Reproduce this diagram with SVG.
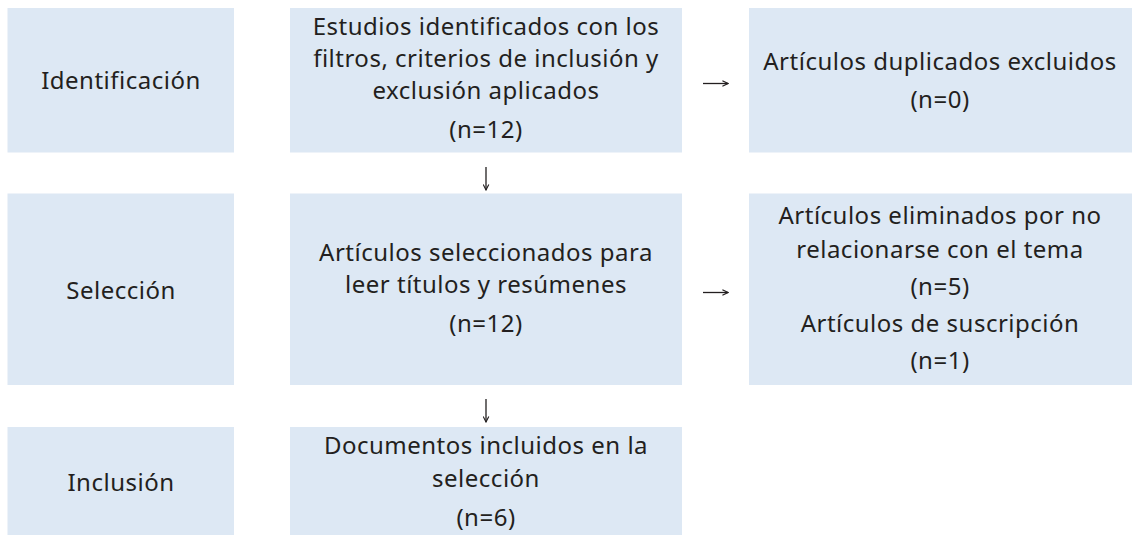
<svg xmlns="http://www.w3.org/2000/svg" width="1132" height="535" viewBox="0 0 1132 535">
  <defs>
    <style>
      .box { fill: #dde8f4; }
      .t { font-family: "Noto Sans", "Open Sans", "DejaVu Sans", sans-serif; font-size: 24px; letter-spacing: 0.5px; fill: #231f20; text-anchor: middle; }
      .conn { stroke: #231f20; stroke-width: 1.3; fill: none; }
    </style>
    <marker id="ah" viewBox="0 0 10 10" refX="9" refY="5" markerWidth="7" markerHeight="7" markerUnits="userSpaceOnUse" orient="auto">
      <path d="M1,1 L9,5 L1,9" fill="none" stroke="#231f20" stroke-width="1.6"/>
    </marker>
  </defs>
  <rect width="1132" height="535" fill="#ffffff"/>

  <g id="identificacion">
    <rect class="box" x="7.5" y="8" width="226.5" height="144.5"/>
    <text class="t" x="121" y="89">Identificación</text>
  </g>
  <g id="estudios">
    <rect class="box" x="290" y="8" width="392" height="144.5"/>
    <text class="t" x="486" y="35">Estudios identificados con los</text>
    <text class="t" x="486" y="67">filtros, criterios de inclusión y</text>
    <text class="t" x="486" y="99">exclusión aplicados</text>
    <text class="t" x="486" y="138">(n=12)</text>
  </g>
  <g id="duplicados">
    <rect class="box" x="749" y="8" width="383" height="144.5"/>
    <text class="t" x="940" y="70">Artículos duplicados excluidos</text>
    <text class="t" x="940" y="108">(n=0)</text>
  </g>

  <g id="seleccion">
    <rect class="box" x="7.5" y="193.5" width="226.5" height="191.5"/>
    <text class="t" x="121" y="299">Selección</text>
  </g>
  <g id="seleccionados">
    <rect class="box" x="290" y="193.5" width="392" height="191.5"/>
    <text class="t" x="486" y="261">Artículos seleccionados para</text>
    <text class="t" x="486" y="293">leer títulos y resúmenes</text>
    <text class="t" x="486" y="332">(n=12)</text>
  </g>
  <g id="eliminados">
    <rect class="box" x="749" y="193.5" width="383" height="191.5"/>
    <text class="t" x="940" y="224">Artículos eliminados por no</text>
    <text class="t" x="940" y="258">relacionarse con el tema</text>
    <text class="t" x="940" y="295">(n=5)</text>
    <text class="t" x="940" y="332">Artículos de suscripción</text>
    <text class="t" x="940" y="369">(n=1)</text>
  </g>

  <g id="inclusion">
    <rect class="box" x="7.5" y="427" width="226.5" height="108"/>
    <text class="t" x="121" y="491">Inclusión</text>
  </g>
  <g id="documentos">
    <rect class="box" x="290" y="427" width="392" height="108"/>
    <text class="t" x="486" y="454">Documentos incluidos en la</text>
    <text class="t" x="486" y="487">selección</text>
    <text class="t" x="486" y="526">(n=6)</text>
  </g>

  <g id="connectors">
    <line class="conn" x1="703" y1="83.5" x2="728" y2="83.5" marker-end="url(#ah)"/>
    <line class="conn" x1="703" y1="292.5" x2="728" y2="292.5" marker-end="url(#ah)"/>
    <line class="conn" x1="486" y1="167" x2="486" y2="190" marker-end="url(#ah)"/>
    <line class="conn" x1="486" y1="399" x2="486" y2="422" marker-end="url(#ah)"/>
  </g>
</svg>
